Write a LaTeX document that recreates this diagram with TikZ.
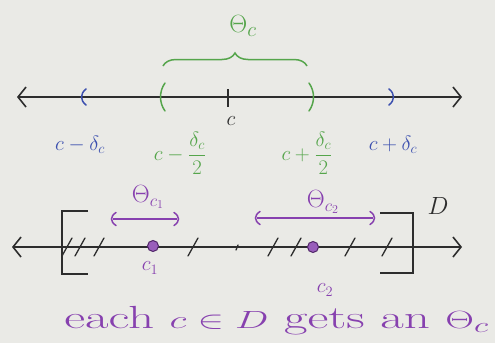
\documentclass[tikz,border=0pt]{standalone}
\usepackage{amsmath}
\usetikzlibrary{arrows.meta,decorations.pathreplacing}
\definecolor{bg}{RGB}{234,234,230}
\definecolor{ink}{RGB}{45,45,45}
\definecolor{gr}{RGB}{85,165,75}
\definecolor{bl}{RGB}{60,80,175}
\definecolor{pu}{RGB}{135,65,175}
\tikzset{
  axis/.style={draw=ink, line width=1.6pt, {Straight Barb[length=8pt,width=20pt]}-{Straight Barb[length=8pt,width=20pt]}},
  lparen/.pic={\draw[line width=1.5pt,line cap=round] (3,-10) .. controls (-3,-4) and (-3,4) .. (3,10);},
  rparen/.pic={\draw[line width=1.5pt,line cap=round] (-3,-10) .. controls (3,-4) and (3,4) .. (-3,10);},
  lbl/.style={font=\fontsize{22}{26}\selectfont, inner sep=1pt},
  biglbl/.style={font=\fontsize{30}{34}\selectfont, inner sep=1pt},
  midlbl/.style={font=\fontsize{26}{30}\selectfont, inner sep=1pt},
  hatch/.style={draw=ink, line width=1.3pt, line cap=round},
  dot/.style={circle, fill=pu!85, draw=pu!60!black, line width=1pt, minimum size=11pt, inner sep=0pt},
}
\begin{document}
\begin{tikzpicture}[x=1pt,y=-1pt]
\fill[bg] (0,0) rectangle (495,343);
\useasboundingbox (0,0) rectangle (495,343);

% ---------- top line ----------
\coordinate (tl) at (17,97);
\coordinate (tr) at (462,97);
\draw[axis] (tl) -- (tr);
\coordinate (c) at (228,97);
\draw[ink, line width=1.6pt] (228,89) -- (228,107);
\pic[bl, yscale=0.8] at (83,97) {lparen};
\pic[bl, yscale=0.8] at (392,97) {rparen};
\pic[gr, yscale=1.4] at (162,97) {lparen};
\pic[gr, yscale=1.4] at (312,97) {rparen};
\draw[gr, line width=1.5pt, decorate, decoration={brace, amplitude=13pt}] (163,66) -- (307,66);

\node[biglbl, gr] (thc) at (243,26) {$\Theta_c$};
\node[lbl, ink] (lc) at (231,121) {$c$};
\node[lbl, bl] (lm) at (80,145) {$c-\delta_c$};
\node[lbl, bl] (lp) at (393,145) {$c+\delta_c$};
\node[lbl, gr] (lmh) at (180,153) {$c-\dfrac{\delta_c}{2}$};
\node[lbl, gr] (lph) at (307,153) {$c+\dfrac{\delta_c}{2}$};

% ---------- bottom line ----------
\coordinate (bl) at (12,247);
\coordinate (br) at (462,247);
\draw[axis] (bl) -- (br);
\draw[ink, line width=1.6pt] (88,211) -- (62,211) -- (62,274) -- (88,274);
\draw[ink, line width=1.6pt] (380,213) -- (413,213) -- (413,273) -- (380,273);
\node[midlbl, ink] (D) at (438,206) {$D$};

\foreach \x in {67,80,99,193,273,296,350,387}
  \draw[hatch] (\x-5,256) -- (\x+5,238);
\draw[hatch] (238,245) -- (236,250);

\node[dot] (c1) at (153,246) {};
\node[dot] (c2) at (313,247) {};
\node[lbl, pu] (lc1) at (150,268) {$c_1$};
\node[lbl, pu] (lc2) at (325,290) {$c_2$};

\coordinate (a1) at (113,219);
\coordinate (b1) at (177,219);
\pic[pu, yscale=0.65] at (a1) {lparen};
\pic[pu, yscale=0.65] at (b1) {rparen};
\draw[pu, line width=1.4pt] (a1) -- (b1);
\node[midlbl, pu] (th1) at (148,197) {$\Theta_{c_1}$};

\coordinate (a2) at (257,218);
\coordinate (b2) at (373,218);
\pic[pu, yscale=0.65] at (a2) {lparen};
\pic[pu, yscale=0.65] at (b2) {rparen};
\draw[pu, line width=1.4pt] (a2) -- (b2);
\node[midlbl, pu] (th2) at (323,202) {$\Theta_{c_2}$};

\node[pu, font=\fontsize{32}{36}\selectfont, anchor=west, inner sep=0pt, xscale=1.6] (txt) at (64,321) {each $c\in D$ gets an $\Theta_c$};
\end{tikzpicture}
\end{document}
